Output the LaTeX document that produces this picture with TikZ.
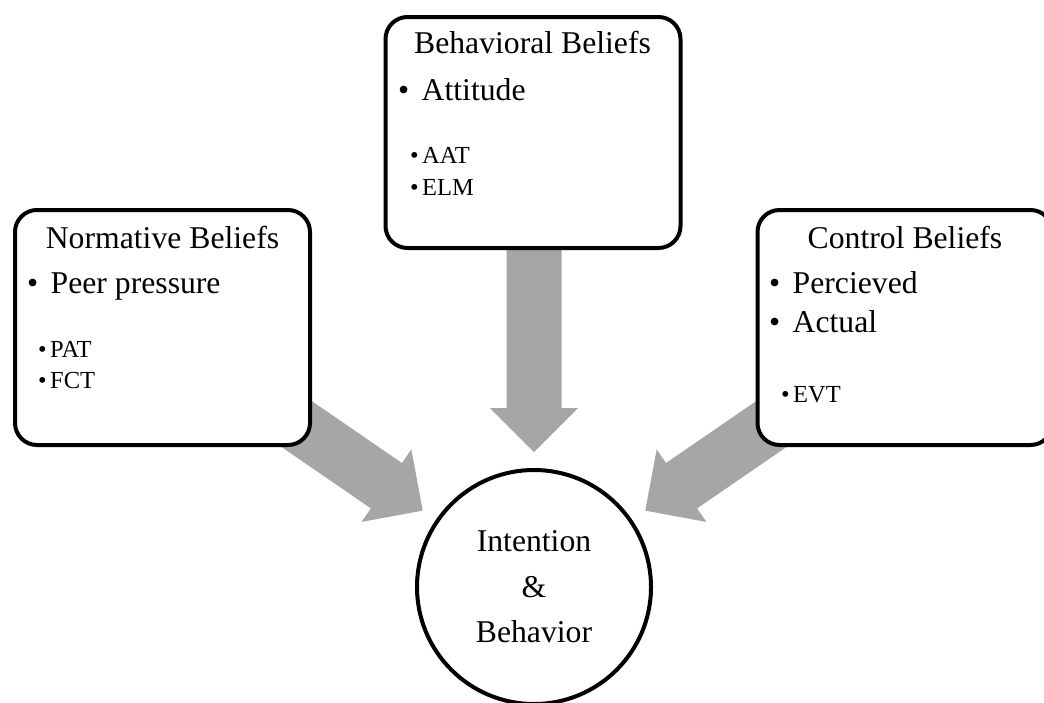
\documentclass[tikz,border=0pt]{standalone}
\usepackage{fontspec}
\setmainfont{Liberation Serif}
\usetikzlibrary{calc}
\pgfdeclarelayer{background}
\pgfsetlayers{background,main}
\definecolor{arrowgray}{RGB}{166,166,166}
% fat block arrow from coordinate #1 towards the centre of node #2,
% tip stopping 16pt before the node's outer border (radius 119pt)
\newcommand\fatarrow[2]{%
  \coordinate (T) at ($(#2.center)!135pt!(#1)$);
  \coordinate (H) at ($(#2.center)!179pt!(#1)$);
  \fill[arrowgray]
    ($(#1)!27.5pt!-90:(H)$) -- ($(H)!27.5pt!90:(#1)$) -- ($(H)!44pt!90:(#1)$) --
    (T) --
    ($(H)!44pt!-90:(#1)$) -- ($(H)!27.5pt!-90:(#1)$) -- ($(#1)!27.5pt!90:(H)$) -- cycle;
}
\begin{document}
\begin{tikzpicture}[x=1pt,y=-1pt,
  box/.style={draw,line width=4pt,rounded corners=22pt,fill=white,minimum width=295pt,inner sep=0pt},
  titletext/.style={anchor=base,inner sep=0pt,font=\fontsize{31.7}{38}\selectfont},
  bigitem/.style={anchor=base west,inner sep=0pt,font=\fontsize{31.7}{38}\selectfont},
  smallitem/.style={anchor=base west,inner sep=0pt,font=\fontsize{24.5}{30}\selectfont}]
\useasboundingbox (0,0) rectangle (1044,702);
\clip (0,0) rectangle (1044,702);

% boxes
\node[box,minimum height=235pt] (nb) at (162.5,327.5) {};
\node[box,minimum height=231pt] (bb) at (533,132.5) {};
\node[box,minimum height=235pt] (cb) at (905,327.5) {};

% circle
\node[circle,draw,line width=4pt,minimum size=234pt,inner sep=0pt,fill=white,align=center,
      font=\fontsize{31.7}{45.5}\selectfont] (ib) at (534,587) {Intention\\\&\\Behavior};

% normative beliefs text
\node[titletext] (nt) at (162.5,248) {Normative Beliefs};
\node[bigitem] (n1) at (27,293) {\makebox[23.5pt][l]{\textbullet}Peer pressure};
\node[smallitem] (n2) at (38,357) {\makebox[12pt][l]{\textbullet}PAT};
\node[smallitem] (n3) at (38,388) {\makebox[12pt][l]{\textbullet}FCT};

% behavioral beliefs text
\node[titletext] (bt) at (532.5,53) {Behavioral Beliefs};
\node[bigitem] (b1) at (398,100) {\makebox[23.5pt][l]{\textbullet}Attitude};
\node[smallitem] (b2) at (410,163) {\makebox[12pt][l]{\textbullet}AAT};
\node[smallitem] (b3) at (410,195) {\makebox[12pt][l]{\textbullet}ELM};

% control beliefs text
\node[titletext] (ct) at (905,248) {Control Beliefs};
\node[bigitem] (c1) at (769,293) {\makebox[23.5pt][l]{\textbullet}Percieved};
\node[bigitem] (c2) at (769,332) {\makebox[23.5pt][l]{\textbullet}Actual};
\node[smallitem] (c3) at (781,402) {\makebox[12pt][l]{\textbullet}EVT};

% arrows behind the boxes
\begin{pgfonlayer}{background}
\coordinate (s1) at (250,392);
\coordinate (s2) at (534,200);
\coordinate (s3) at (818,392);
\fatarrow{s1}{ib}
\fatarrow{s2}{ib}
\fatarrow{s3}{ib}
\end{pgfonlayer}
\end{tikzpicture}
\end{document}
